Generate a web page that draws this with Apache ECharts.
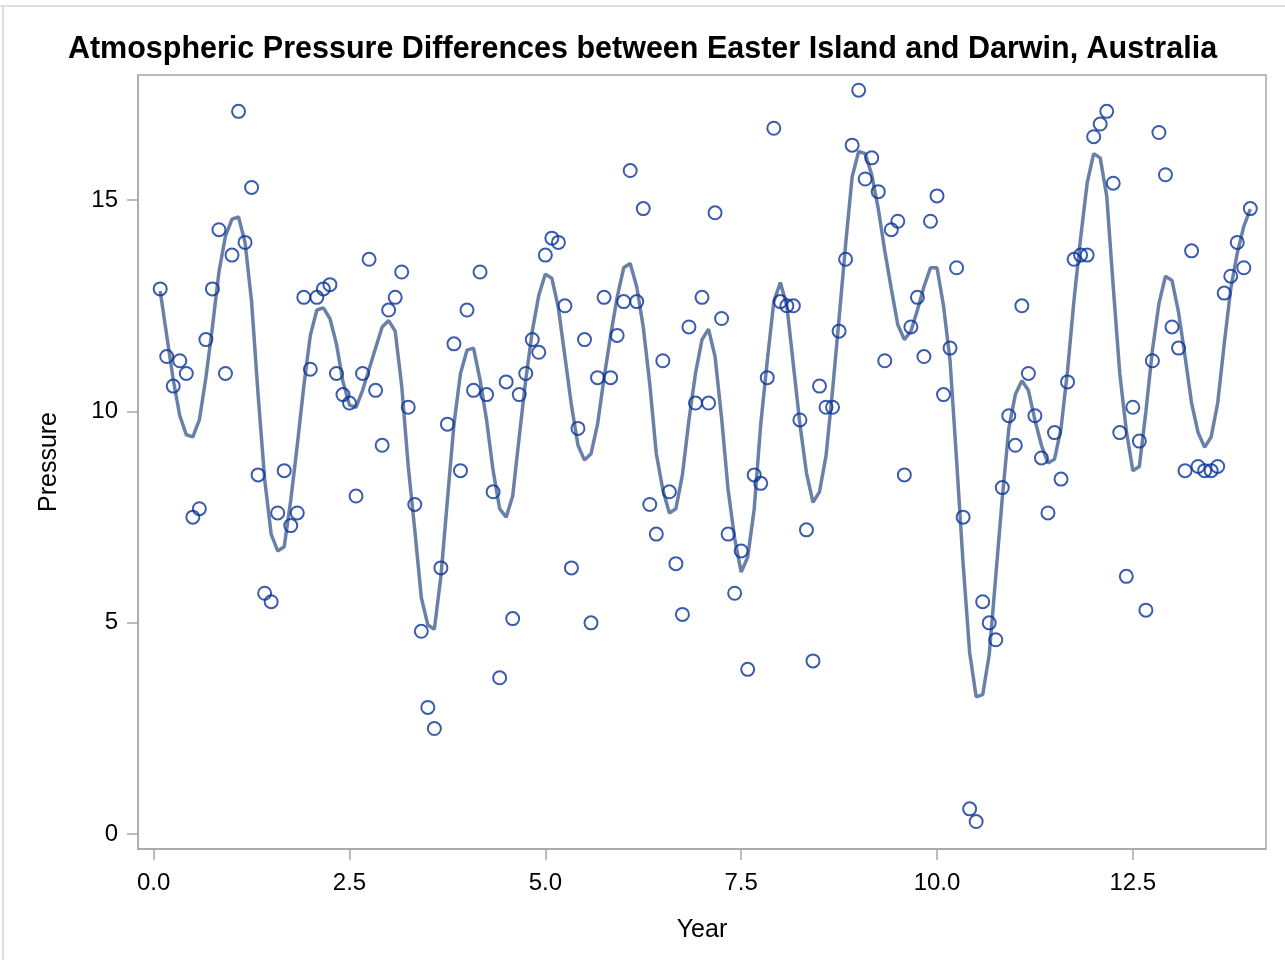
<!DOCTYPE html>
<html>
<head>
<meta charset="utf-8">
<script src="https://cdn.jsdelivr.net/npm/echarts@6/dist/echarts.min.js"></script>
<style>
html,body{margin:0;padding:0;background:#fff;}
#c{width:1285px;height:960px;}
</style>
</head>
<body>
<div id="c"></div>
<script>
// Year of each monthly observation
const years = [
  0.0833, 0.1667, 0.25, 0.3333, 0.4167, 0.5, 0.5833, 0.6667, 0.75, 0.8333, 0.9167, 1.0,
  1.0833, 1.1667, 1.25, 1.3333, 1.4167, 1.5, 1.5833, 1.6667, 1.75, 1.8333, 1.9167, 2.0,
  2.0833, 2.1667, 2.25, 2.3333, 2.4167, 2.5, 2.5833, 2.6667, 2.75, 2.8333, 2.9167, 3.0,
  3.0833, 3.1667, 3.25, 3.3333, 3.4167, 3.5, 3.5833, 3.6667, 3.75, 3.8333, 3.9167, 4.0,
  4.0833, 4.1667, 4.25, 4.3333, 4.4167, 4.5, 4.5833, 4.6667, 4.75, 4.8333, 4.9167, 5.0,
  5.0833, 5.1667, 5.25, 5.3333, 5.4167, 5.5, 5.5833, 5.6667, 5.75, 5.8333, 5.9167, 6.0,
  6.0833, 6.1667, 6.25, 6.3333, 6.4167, 6.5, 6.5833, 6.6667, 6.75, 6.8333, 6.9167, 7.0,
  7.0833, 7.1667, 7.25, 7.3333, 7.4167, 7.5, 7.5833, 7.6667, 7.75, 7.8333, 7.9167, 8.0,
  8.0833, 8.1667, 8.25, 8.3333, 8.4167, 8.5, 8.5833, 8.6667, 8.75, 8.8333, 8.9167, 9.0,
  9.0833, 9.1667, 9.25, 9.3333, 9.4167, 9.5, 9.5833, 9.6667, 9.75, 9.8333, 9.9167, 10.0,
  10.0833, 10.1667, 10.25, 10.3333, 10.4167, 10.5, 10.5833, 10.6667, 10.75, 10.8333, 10.9167, 11.0,
  11.0833, 11.1667, 11.25, 11.3333, 11.4167, 11.5, 11.5833, 11.6667, 11.75, 11.8333, 11.9167, 12.0,
  12.0833, 12.1667, 12.25, 12.3333, 12.4167, 12.5, 12.5833, 12.6667, 12.75, 12.8333, 12.9167, 13.0,
  13.0833, 13.1667, 13.25, 13.3333, 13.4167, 13.5, 13.5833, 13.6667, 13.75, 13.8333, 13.9167, 14.0
];

// Observed pressure differences
const pressure = [
  12.9, 11.3, 10.6, 11.2, 10.9, 7.5, 7.7, 11.7, 12.9, 14.3, 10.9, 13.7,
  17.1, 14.0, 15.3, 8.5, 5.7, 5.5, 7.6, 8.6, 7.3, 7.6, 12.7, 11.0,
  12.7, 12.9, 13.0, 10.9, 10.4, 10.2, 8.0, 10.9, 13.6, 10.5, 9.2, 12.4,
  12.7, 13.3, 10.1, 7.8, 4.8, 3.0, 2.5, 6.3, 9.7, 11.6, 8.6, 12.4,
  10.5, 13.3, 10.4, 8.1, 3.7, 10.7, 5.1, 10.4, 10.9, 11.7, 11.4, 13.7,
  14.1, 14.0, 12.5, 6.3, 9.6, 11.7, 5.0, 10.8, 12.7, 10.8, 11.8, 12.6,
  15.7, 12.6, 14.8, 7.8, 7.1, 11.2, 8.1, 6.4, 5.2, 12.0, 10.2, 12.7,
  10.2, 14.7, 12.2, 7.1, 5.7, 6.7, 3.9, 8.5, 8.3, 10.8, 16.7, 12.6,
  12.5, 12.5, 9.8, 7.2, 4.1, 10.6, 10.1, 10.1, 11.9, 13.6, 16.3, 17.6,
  15.5, 16.0, 15.2, 11.2, 14.3, 14.5, 8.5, 12.0, 12.7, 11.3, 14.5, 15.1,
  10.4, 11.5, 13.4, 7.5, 0.6, 0.3, 5.5, 5.0, 4.6, 8.2, 9.9, 9.2,
  12.5, 10.9, 9.9, 8.9, 7.6, 9.5, 8.4, 10.7, 13.6, 13.7, 13.7, 16.5,
  16.8, 17.1, 15.4, 9.5, 6.1, 10.1, 9.3, 5.3, 11.2, 16.6, 15.6, 12.0,
  11.5, 8.6, 13.8, 8.7, 8.6, 8.6, 8.7, 12.8, 13.2, 14.0, 13.4, 14.8
];

// Smooth fit curve at each month
const fitCurve = [
  12.85, 11.8, 10.75, 9.9, 9.45, 9.4, 9.8, 10.8, 12.0, 13.3, 14.15, 14.55,
  14.6, 14.0, 12.6, 10.4, 8.4, 7.1, 6.7, 6.8, 7.9, 9.2, 10.6, 11.8,
  12.4, 12.45, 12.2, 11.6, 10.7, 10.15, 10.1, 10.5, 11.0, 11.5, 12.0, 12.15,
  11.9, 10.6, 8.7, 7.2, 5.6, 4.95, 4.85, 6.1, 7.9, 9.7, 10.9, 11.45,
  11.5, 10.75, 9.8, 8.6, 7.7, 7.5, 8.0, 9.4, 10.75, 11.9, 12.75, 13.25,
  13.15, 12.45, 11.3, 10.15, 9.2, 8.85, 9.0, 9.7, 10.8, 11.8, 12.7, 13.4,
  13.5, 12.95, 12.0, 10.65, 9.0, 8.15, 7.6, 7.7, 8.5, 9.8, 10.9, 11.7,
  11.95, 11.3, 9.85, 8.15, 7.0, 6.2, 6.55, 7.7, 9.7, 11.2, 12.6, 13.05,
  12.5, 11.1, 9.7, 8.55, 7.85, 8.1, 8.95, 10.5, 12.2, 13.95, 15.55, 16.15,
  16.1, 15.6, 14.8, 13.8, 12.9, 12.05, 11.7, 11.9, 12.4, 12.95, 13.4, 13.4,
  12.5, 11.2, 8.85, 6.4, 4.3, 3.25, 3.3, 4.25, 6.1, 7.95, 9.6, 10.4,
  10.73, 10.5, 9.8, 9.2, 8.78, 8.87, 9.6, 10.97, 12.65, 14.1, 15.4, 16.1,
  16.0, 15.1, 12.95, 10.9, 9.55, 8.6, 8.7, 10.0, 11.45, 12.55, 13.2, 13.1,
  12.35, 11.3, 10.2, 9.5, 9.15, 9.4, 10.2, 11.6, 12.9, 13.75, 14.38, 14.79
];

const xTicks = [0, 2.5, 5, 7.5, 10, 12.5];
const yTicks = [0, 5, 10, 15];

const axisColor = '#a4a8ac';
const font = 'Liberation Sans, Arial, sans-serif';

const chart = echarts.init(document.getElementById('c'), null, {renderer: 'canvas'});
const option = {
  animation: false,
  backgroundColor: '#ffffff',
  title: {
    text: 'Atmospheric Pressure Differences between Easter Island and Darwin, Australia',
    left: 'center',
    top: 29,
    textStyle: {fontFamily: font, fontWeight: 'bold', fontSize: 30.5, color: '#000'}
  },
  graphic: [
    {type: 'line', shape: {x1: 0, y1: 6, x2: 1285, y2: 6}, style: {stroke: '#d4d4d4', lineWidth: 1.5}},
    {type: 'line', shape: {x1: 3, y1: 6, x2: 3, y2: 960}, style: {stroke: '#d4d4d4', lineWidth: 1.5}}
  ],
  grid: {
    left: 138, right: 19, top: 75, bottom: 111,
    show: true, borderColor: axisColor, borderWidth: 1.5, backgroundColor: 'transparent'
  },
  xAxis: {
    type: 'value', min: -0.2, max: 14.2,
    name: 'Year', nameLocation: 'middle', nameGap: 69,
    nameTextStyle: {fontFamily: font, fontSize: 25, color: '#000'},
    splitLine: {show: false},
    axisLine: {show: true, onZero: false, lineStyle: {color: axisColor, width: 1.5}},
    axisTick: {show: true, length: 11, customValues: xTicks, lineStyle: {color: axisColor, width: 1.5}},
    axisLabel: {customValues: xTicks, formatter: v => Number(v).toFixed(1), fontFamily: font, fontSize: 24, margin: 22, color: '#000'}
  },
  yAxis: {
    type: 'value', min: -0.35, max: 17.96,
    name: 'Pressure', nameLocation: 'middle', nameGap: 76,
    nameTextStyle: {fontFamily: font, fontSize: 25, color: '#000'},
    splitLine: {show: false},
    axisLine: {show: true, onZero: false, lineStyle: {color: axisColor, width: 1.5}},
    axisTick: {show: true, length: 11, customValues: yTicks, lineStyle: {color: axisColor, width: 1.5}},
    axisLabel: {customValues: yTicks, formatter: v => String(v), fontFamily: font, fontSize: 24, margin: 20, color: '#000'}
  },
  series: [
    {
      type: 'line',
      data: years.map((x, i) => [x, fitCurve[i]]),
      showSymbol: false,
      smooth: false,
      lineStyle: {color: '#6a80a6', width: 3.5},
      z: 2
    },
    {
      type: 'scatter',
      data: years.map((x, i) => [x, pressure[i]]),
      symbol: 'circle',
      symbolSize: 13,
      itemStyle: {color: 'rgba(255,255,255,0)', borderColor: '#0a3399', borderWidth: 2},
      z: 3
    }
  ]
};
chart.setOption(option);
</script>
</body>
</html>
